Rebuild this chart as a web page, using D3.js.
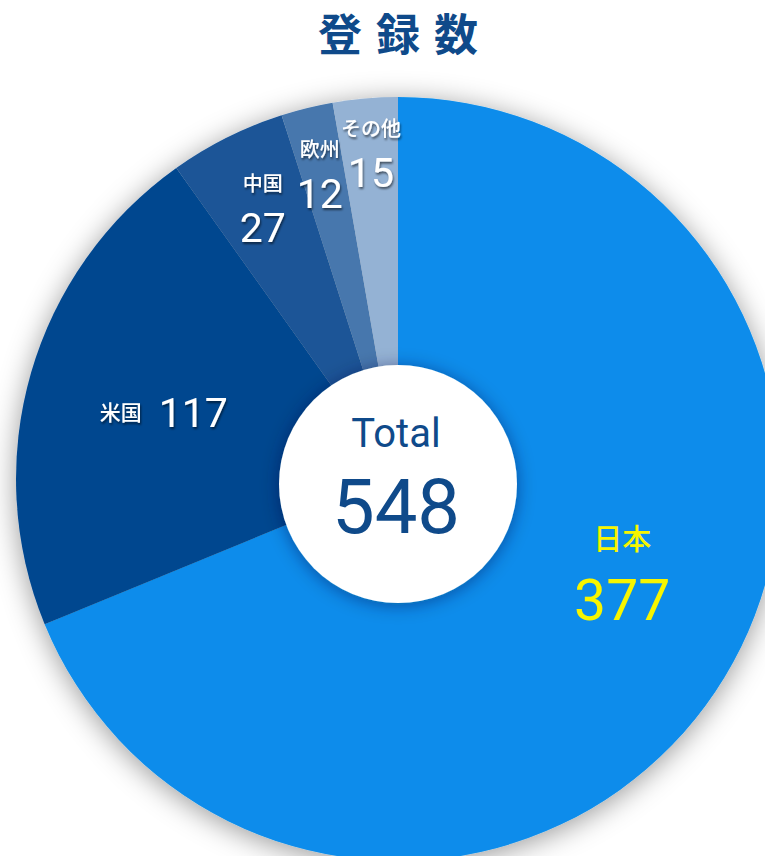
<!DOCTYPE html>
<html>
<head>
<meta charset="utf-8">
<script src="https://cdn.jsdelivr.net/npm/d3@7"></script>
<style>
  html, body { margin: 0; padding: 0; background: #fff; overflow: hidden; }
  svg { display: block; }
</style>
</head>
<body>
<div id="chart"></div>
<script>
// data
const categories = ["日本", "米国", "中国", "欧州", "その他"];
const counts = [377, 117, 27, 12, 15];
const sliceColors = ["#088ceb", "#05478f", "#1a5597", "#4677ad", "#94b2d4"];
const titleText = "登録数";
const totalLabel = "Total";

const width = 765;
const height = 856;
const cx = 398, cy = 479;
const outerR = 382;
const innerR = 119;

// label placement per slice (polar, relative to slice middle angle)
const labelLayout = {
  "日本":  { r: 242, shift: -11.7, nameSize: 29, numSize: 57, nameDy: -20, numDy: 50, color: "#f7f500", shadow: false },
  "米国":  { r: 256, shift: -1.1, nameSize: 21, numSize: 41, inline: true, color: "#fff", shadow: true },
  "中国":  { r: 305, shift: 0.3, nameSize: 20, numSize: 41, nameDy: -15, numDy: 36, color: "#fff", shadow: true },
  "欧州":  { r: 317, shift: -0.5, nameSize: 20, numSize: 41, nameDy: -15, numDy: 36, color: "#fff", shadow: true },
  "その他": { r: 329, shift: 0.2, nameSize: 20, numSize: 41, nameDy: -15, numDy: 36, color: "#fff", shadow: true }
};

const data = categories.map((c, i) => ({ name: c, value: counts[i], color: sliceColors[i] }));
const total = d3.sum(counts);

const svg = d3.select("#chart")
  .append("svg")
  .attr("width", width)
  .attr("height", height);

const defs = svg.append("defs");
defs.append("filter")
  .attr("id", "pieShadow")
  .attr("x", "-20%").attr("y", "-20%").attr("width", "140%").attr("height", "140%")
  .append("feDropShadow")
    .attr("dx", 0).attr("dy", 4)
    .attr("stdDeviation", 14)
    .attr("flood-color", "#000")
    .attr("flood-opacity", 0.4);
defs.append("filter")
  .attr("id", "holeShadow")
  .attr("x", "-30%").attr("y", "-30%").attr("width", "160%").attr("height", "160%")
  .append("feDropShadow")
    .attr("dx", 0).attr("dy", 2)
    .attr("stdDeviation", 9)
    .attr("flood-color", "#001a40")
    .attr("flood-opacity", 0.45);
defs.append("filter")
  .attr("id", "textShadow")
  .attr("x", "-20%").attr("y", "-20%").attr("width", "140%").attr("height", "140%")
  .append("feDropShadow")
    .attr("dx", 1).attr("dy", 2)
    .attr("stdDeviation", 1.2)
    .attr("flood-color", "#000")
    .attr("flood-opacity", 0.55);

// Title
svg.append("text")
  .attr("x", cx + 7)
  .attr("y", 51)
  .attr("text-anchor", "middle")
  .attr("font-family", "'Noto Sans CJK JP', sans-serif")
  .attr("font-weight", 700)
  .attr("font-size", 44)
  .attr("letter-spacing", 14)
  .attr("fill", "#0f4a8a")
  .text(titleText);

const pie = d3.pie()
  .sort(null)
  .value(d => d.value);

const arc = d3.arc()
  .innerRadius(0)
  .outerRadius(outerR);

const arcs = pie(data);

const g = svg.append("g")
  .attr("transform", `translate(${cx}, ${cy})`);

const slices = g.append("g")
  .attr("filter", "url(#pieShadow)");

slices.selectAll("path")
  .data(arcs)
  .join("path")
    .attr("d", arc)
    .attr("fill", d => d.data.color);

// Centre disc
g.append("circle")
  .attr("cx", 0)
  .attr("cy", 5)
  .attr("r", innerR)
  .attr("fill", "#fff")
  .attr("filter", "url(#holeShadow)");

g.append("text")
  .attr("x", -2)
  .attr("y", -32)
  .attr("text-anchor", "middle")
  .attr("font-family", "Roboto, sans-serif")
  .attr("font-size", 40)
  .attr("fill", "#0f4a8a")
  .text(totalLabel);

g.append("text")
  .attr("x", -2)
  .attr("y", 54)
  .attr("text-anchor", "middle")
  .attr("font-family", "Roboto, sans-serif")
  .attr("font-size", 76)
  .attr("fill", "#0f4a8a")
  .text(d3.format("d")(total));

// Slice labels
const toRad = Math.PI / 180;
arcs.forEach(a => {
  const L = labelLayout[a.data.name];
  const mid = (a.startAngle + a.endAngle) / 2 + L.shift * toRad;
  const x = L.r * Math.sin(mid);
  const y = -L.r * Math.cos(mid);
  const lg = g.append("g")
    .attr("transform", `translate(${x}, ${y})`)
    .attr("fill", L.color)
    .attr("filter", L.shadow ? "url(#textShadow)" : null);

  if (L.inline) {
    lg.append("text")
      .attr("x", -9)
      .attr("y", 7)
      .attr("text-anchor", "end")
      .attr("font-family", "'Noto Sans CJK JP', sans-serif")
      .attr("font-weight", 500)
      .attr("font-size", L.nameSize)
      .text(a.data.name);
    lg.append("text")
      .attr("x", 8)
      .attr("y", 14)
      .attr("text-anchor", "start")
      .attr("font-family", "Roboto, sans-serif")
      .attr("font-size", L.numSize)
      .text(a.data.value);
  } else {
    lg.append("text")
      .attr("x", 0)
      .attr("y", L.nameDy)
      .attr("text-anchor", "middle")
      .attr("font-family", "'Noto Sans CJK JP', sans-serif")
      .attr("font-weight", 500)
      .attr("font-size", L.nameSize)
      .text(a.data.name);
    lg.append("text")
      .attr("x", 0)
      .attr("y", L.numDy)
      .attr("text-anchor", "middle")
      .attr("font-family", "Roboto, sans-serif")
      .attr("font-size", L.numSize)
      .text(a.data.value);
  }
});
</script>
</body>
</html>
